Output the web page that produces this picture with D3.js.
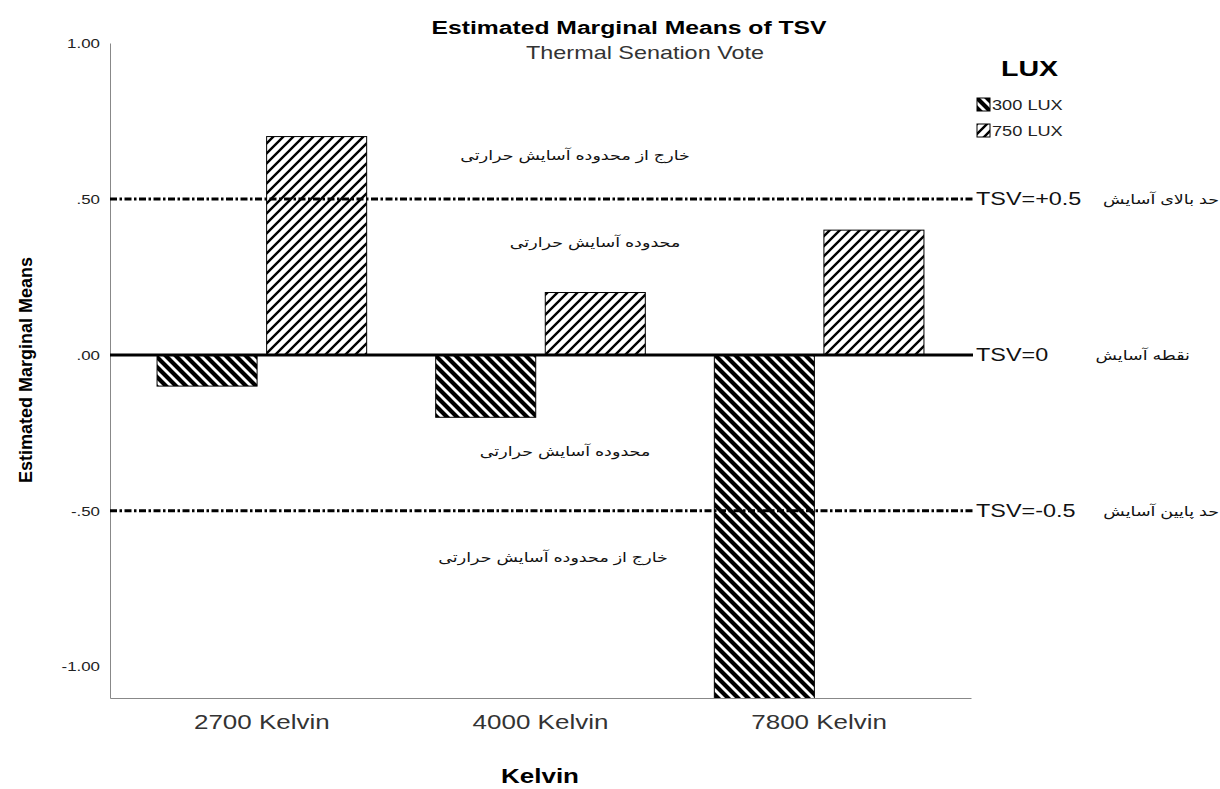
<!DOCTYPE html>
<html>
<head>
<meta charset="utf-8">
<script src="https://cdn.jsdelivr.net/npm/d3@7"></script>
<style>
  body { margin: 0; background: #fff; }
  svg { font-family: "Liberation Sans", Arial, "DejaVu Sans", sans-serif; }
</style>
</head>
<body>
<div id="chart-container"></div>
<script>
const width = 1220;
const height = 789;
const margin = { top: 43, left: 110, right: 249, bottom: 91 };
const stretch = 1.3; // the source renders its text wide

// data
const categories = ["2700 Kelvin", "4000 Kelvin", "7800 Kelvin"];
const series = ["300 LUX", "750 LUX"];
const lux300 = [-0.10, -0.20, -1.17];
const lux750 = [0.70, 0.20, 0.40];
const yTicks = [1.0, 0.5, 0.0, -0.5, -1.0];
const refLines = [
  { value: 0.5, label: "TSV=+0.5", note: "حد بالای آسایش", dashed: true },
  { value: 0, label: "TSV=0", note: "نقطه آسایش", dashed: false },
  { value: -0.5, label: "TSV=-0.5", note: "حد پایین آسایش", dashed: true }
];
const zoneNotes = [
  { value: 0.64, text: "خارج از محدوده آسایش حرارتی", x: 575 },
  { value: 0.36, text: "محدوده آسایش حرارتی", x: 595 },
  { value: -0.31, text: "محدوده آسایش حرارتی", x: 565 },
  { value: -0.65, text: "خارج از محدوده آسایش حرارتی", x: 553 }
];

const data = [];
categories.forEach((c, i) => {
  data.push({ cat: c, lux: series[0], value: lux300[i] });
  data.push({ cat: c, lux: series[1], value: lux750[i] });
});

const svg = d3.select("#chart-container").append("svg")
  .attr("width", width)
  .attr("height", height);

// puts a text at x,y and widens it
let wide = (sel, x, y) => sel
  .attr("transform", (d, i) => {
    const xx = typeof x === "function" ? x(d, i) : x;
    const yy = typeof y === "function" ? y(d, i) : y;
    return `translate(${xx},${yy}) scale(${stretch},1)`;
  });

// hatch patterns
const defs = svg.append("defs");
const pat300 = defs.append("pattern")
  .attr("id", "hatch300")
  .attr("patternUnits", "userSpaceOnUse")
  .attr("width", 10).attr("height", 10);
pat300.append("rect").attr("width", 10).attr("height", 10).attr("fill", "#fff");
pat300.append("path")
  .attr("d", "M-5,5 L5,15 M0,0 L10,10 M5,-5 L15,5")
  .attr("stroke", "#000").attr("stroke-width", 4.2);

const pat750 = defs.append("pattern")
  .attr("id", "hatch750")
  .attr("patternUnits", "userSpaceOnUse")
  .attr("width", 10).attr("height", 10);
pat750.append("rect").attr("width", 10).attr("height", 10).attr("fill", "#fff");
pat750.append("path")
  .attr("d", "M-5,5 L5,-5 M0,10 L10,0 M5,15 L15,5")
  .attr("stroke", "#000").attr("stroke-width", 2.4);

const fill = lux => lux === series[0] ? "url(#hatch300)" : "url(#hatch750)";

defs.append("clipPath").attr("id", "plotClip")
  .append("rect")
  .attr("x", margin.left).attr("y", margin.top)
  .attr("width", width - margin.left - margin.right)
  .attr("height", height - margin.top - margin.bottom);

//Defines the scales
const x0 = d3.scaleBand()
  .domain(categories)
  .range([margin.left, width - margin.right])
  .paddingInner(0)
  .paddingOuter(0.045);

const x1 = d3.scaleBand()
  .domain(series)
  .range([0, x0.bandwidth()])
  .paddingInner(0.087)
  .paddingOuter(0.315);

const y = d3.scaleLinear()
  .domain([-1.1, 1.0])
  .range([height - margin.bottom, margin.top]);

// bars
const g = svg.append("g").attr("clip-path", "url(#plotClip)");
g.selectAll(".bar")
  .data(data)
  .enter()
  .append("rect")
  .attr("class", "bar")
  .attr("x", d => x0(d.cat) + x1(d.lux))
  .attr("y", d => y(Math.max(0, d.value)))
  .attr("width", x1.bandwidth())
  .attr("height", d => Math.abs(y(d.value) - y(0)))
  .attr("fill", d => fill(d.lux))
  .attr("stroke", "#000")
  .attr("stroke-width", 1);

// axes
const tickFmt = d => (d < 0 ? "-" : "") + d3.format(".2f")(Math.abs(d)).replace(/^0/, "");
const yAxis = svg.append("g")
  .attr("transform", `translate(${margin.left},0)`)
  .call(d3.axisLeft(y).tickValues(yTicks).tickSize(0).tickFormat(tickFmt));
yAxis.select(".domain").attr("stroke", "#888");
yAxis.selectAll("text")
  .attr("x", 0).attr("dy", "0.32em")
  .attr("transform", `translate(-10,0) scale(${stretch},1)`)
  .style("font-size", "13px")
  .attr("fill", "#222");

const xAxis = svg.append("g")
  .attr("transform", `translate(0,${height - margin.bottom})`)
  .call(d3.axisBottom(x0).tickSize(0).tickPadding(17));
xAxis.select(".domain").attr("stroke", "#888");
xAxis.selectAll("text")
  .attr("transform", `scale(${stretch},1)`)
  .style("font-size", "20px")
  .attr("fill", "#333");

// reference lines
const lineEnd = width - margin.right + 2;
const gRef = svg.append("g");
gRef.selectAll("line")
  .data(refLines)
  .enter().append("line")
  .attr("x1", margin.left)
  .attr("x2", lineEnd)
  .attr("y1", d => y(d.value))
  .attr("y2", d => y(d.value))
  .attr("stroke", "#000")
  .attr("stroke-width", 3)
  .attr("stroke-dasharray", d => d.dashed ? "7,2.5,2.5,2.5" : null);

gRef.selectAll(".ref-label")
  .data(refLines)
  .enter().append("text")
  .attr("class", "ref-label")
  .call(wide, lineEnd + 3, d => y(d.value))
  .attr("dy", "0.35em")
  .style("font-size", "18px")
  .attr("fill", "#111")
  .text(d => d.label);

gRef.selectAll(".ref-note")
  .data(refLines)
  .enter().append("text")
  .attr("class", "ref-note")
  .call(wide, d => d.value === 0 ? 1190 : 1219, d => y(d.value))
  .attr("dy", "0.35em")
  .attr("text-anchor", "end")
  .style("font-size", "13.5px")
  .attr("fill", "#111")
  .text(d => d.note);

// zone notes
svg.append("g").selectAll("text")
  .data(zoneNotes)
  .enter().append("text")
  .call(wide, d => d.x, d => y(d.value))
  .attr("dy", "0.35em")
  .attr("text-anchor", "middle")
  .style("font-size", "13.5px")
  .attr("fill", "#111")
  .text(d => d.text);

// titles
svg.append("text")
  .call(wide, 629, 34)
  .attr("text-anchor", "middle")
  .style("font-size", "19px").style("font-weight", "bold")
  .text("Estimated Marginal Means of TSV");
svg.append("text")
  .call(wide, 645, 59)
  .attr("text-anchor", "middle")
  .style("font-size", "18px")
  .attr("fill", "#333")
  .text("Thermal Senation Vote");

svg.append("text")
  .attr("transform", "translate(32,370) rotate(-90)")
  .attr("text-anchor", "middle")
  .style("font-size", "18px").style("font-weight", "bold")
  .text("Estimated Marginal Means");

svg.append("text")
  .call(wide, 540, 783)
  .attr("text-anchor", "middle")
  .style("font-size", "20px").style("font-weight", "bold")
  .text("Kelvin");

// legend
const legend = svg.append("g").attr("transform", "translate(977,0)");
legend.append("text")
  .call(wide, 24, 76)
  .style("font-size", "22px").style("font-weight", "bold")
  .text("LUX");
const items = legend.selectAll(".item")
  .data(series)
  .enter().append("g")
  .attr("class", "item")
  .attr("transform", (d, i) => `translate(0,${98 + i * 26})`);
items.append("rect")
  .attr("width", 13).attr("height", 13)
  .attr("fill", d => fill(d))
  .attr("stroke", "#000");
items.append("text")
  .call(wide, 15, 7)
  .attr("dy", "0.35em")
  .style("font-size", "14px")
  .attr("fill", "#222")
  .text(d => d);
</script>
</body>
</html>
